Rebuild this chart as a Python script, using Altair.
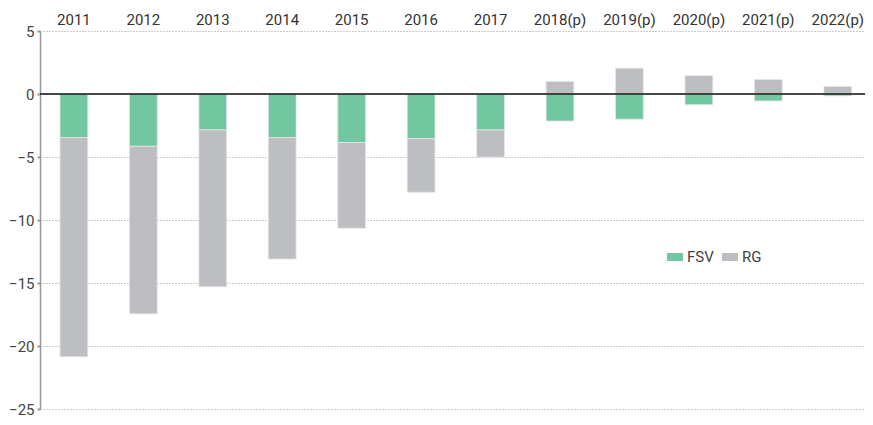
import altair as alt
import pandas as pd

years = ["2011", "2012", "2013", "2014", "2015", "2016", "2017",
         "2018(p)", "2019(p)", "2020(p)", "2021(p)", "2022(p)"]
fsv = [-3.45, -4.15, -2.85, -3.45, -3.85, -3.55, -2.85, -2.15, -2.0, -0.85, -0.55, -0.15]
rg = [-17.4, -13.3, -12.45, -9.65, -6.8, -4.25, -2.15, 1.0, 2.05, 1.45, 1.15, 0.6]
series = ["FSV", "RG"]
colors = ["#72C6A0", "#BDBEC1"]

rows = []
for y, f, r in zip(years, fsv, rg):
    rows.append({"year": y, "series": "FSV", "value": f, "ord": 0})
    rows.append({"year": y, "series": "RG", "value": r, "ord": 1})
df = pd.DataFrame(rows)

FONT = "Roboto"

bars = alt.Chart(df).mark_bar(stroke="#E6E6E6", strokeWidth=0.8).encode(
    x=alt.X("year:N", sort=years, title=None,
            scale=alt.Scale(paddingInner=0.6, paddingOuter=0.24, align=0.6),
            axis=alt.Axis(orient="top", ticks=False, domain=False, labelAngle=0,
                          labelFontSize=15, labelColor="#333333", labelFont=FONT,
                          labelPadding=4)),
    y=alt.Y("value:Q", title=None, stack="zero",
            scale=alt.Scale(domain=[-25, 5], nice=False),
            axis=alt.Axis(values=[5, 0, -5, -10, -15, -20, -25], grid=True,
                          gridDash=[1, 2], gridColor="#999999", gridWidth=1,
                          domainColor="#999999", domainWidth=1.5,
                          tickColor="#999999", tickSize=3, tickWidth=2,
                          labelFontSize=15, labelColor="#444444", labelFont=FONT,
                          labelPadding=3)),
    color=alt.Color("series:N", sort=series,
                    scale=alt.Scale(domain=series, range=colors),
                    legend=alt.Legend(title=None, orient="none", direction="horizontal",
                                      legendX=627, legendY=218,
                                      symbolType="M-1,-0.5h2v1h-2z", symbolSize=256,
                                      symbolStrokeWidth=0, symbolOpacity=1,
                                      labelFontSize=15, labelColor="#444444",
                                      labelFont=FONT, columnPadding=8,
                                      labelOffset=4)),
    order=alt.Order("ord:Q"),
)

zero = alt.Chart(pd.DataFrame({"z": [0]})).mark_rule(color="#111111", strokeWidth=1.5).encode(
    y="z:Q"
)

chart = alt.layer(bars, zero).properties(
    width=825, height=378,
    autosize=alt.AutoSizeParams(type="none"),
    padding={"left": 32, "top": 23, "right": 0, "bottom": 8},
).configure_view(stroke=None)

chart.save("out.html", embed_options={"renderer": "svg", "actions": False})
